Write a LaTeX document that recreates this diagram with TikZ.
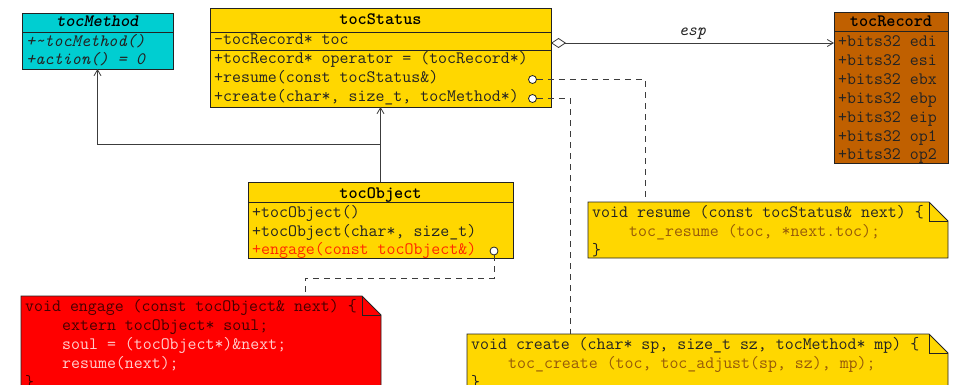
\documentclass[tikz,border=0pt]{standalone}
\usepackage{fontspec}
\usetikzlibrary{arrows.meta}
\definecolor{goldc}{RGB}{255,215,0}
\definecolor{cyanc}{RGB}{0,206,209}
\definecolor{brownc}{RGB}{192,96,0}
\definecolor{redc}{RGB}{255,0,0}
\definecolor{darkc}{RGB}{35,35,35}
\definecolor{linec}{RGB}{60,60,60}
\definecolor{bodyc}{RGB}{150,90,10}
\definecolor{pinkc}{RGB}{255,205,205}
\definecolor{maroonc}{RGB}{70,0,0}
\definecolor{engc}{RGB}{255,40,0}
\newcommand\mf{\ttfamily\fontsize{17.4}{20}\selectfont}
\newcommand\notefold[2]{%
  \filldraw[boxline, fill=#2] (#1.south west) -- (#1.north west) -- ([xshift=-19pt]#1.north east) -- ([yshift=-19pt]#1.north east) -- (#1.south east) -- cycle;
  \draw[boxline] ([xshift=-19pt]#1.north east) -- ([xshift=-19pt,yshift=-19pt]#1.north east) -- ([yshift=-19pt]#1.north east);}
\begin{document}
\begin{tikzpicture}[x=1pt,y=-1pt,
  boxline/.style={draw=darkc, line width=0.8pt},
  box/.style={boxline, rectangle, inner sep=0pt, outer sep=0pt},
  notearea/.style={rectangle, inner sep=0pt, outer sep=0pt},
  txt/.style={anchor=base west, inner sep=0pt, text=darkc, font=\mf},
  ttl/.style={anchor=base, inner sep=0pt, text=black, font=\mf\bfseries},
  port/.style={circle, draw=darkc, line width=0.8pt, fill=white, minimum size=8pt, inner sep=0pt},
  conn/.style={draw=linec, line width=0.8pt},
  dashline/.style={conn, dash pattern=on 6pt off 5pt},
  tip/.style={-{Straight Barb[length=6pt,width=7pt]}}]
\useasboundingbox (0,0) rectangle (955,385);

% ---- class boxes
\node[box, fill=cyanc, minimum width=151pt, minimum height=56pt] (tm) at (97.5,41) {};
\draw[boxline] ([yshift=-19pt]tm.north west) -- ([yshift=-19pt]tm.north east);
\node[ttl, font=\mf\bfseries\itshape] (tmT) at (97.5,27) {tocMethod};
\node[txt, font=\mf\itshape] (tm1) at (26,47) {+\textasciitilde tocMethod()};
\node[txt, font=\mf\itshape] (tm2) at (26,65) {+action() = 0};

\node[box, fill=goldc, minimum width=341pt, minimum height=99pt] (st) at (380.5,57.5) {};
\draw[boxline] ([yshift=-24pt]st.north west) -- ([yshift=-24pt]st.north east);
\draw[boxline] ([yshift=-42pt]st.north west) -- ([yshift=-42pt]st.north east);
\node[ttl] (stT) at (380.5,25) {tocStatus};
\node[txt] (st0) at (214,45) {-tocRecord* toc};
\node[txt] (st1) at (214,64) {+tocRecord* operator = (tocRecord*)};
\node[txt] (st2) at (214,83) {+resume(const tocStatus\&)};
\node[txt] (st3) at (214,102) {+create(char*, size\_t, tocMethod*)};

\node[box, fill=brownc, minimum width=114pt, minimum height=151pt] (rec) at (891,87.5) {};
\draw[boxline] ([yshift=-19pt]rec.north west) -- ([yshift=-19pt]rec.north east);
\node[ttl] (recT) at (891,27) {tocRecord};
\node[txt] (r1) at (838,47) {+bits32 edi};
\node[txt] (r2) at (838,65.8) {+bits32 esi};
\node[txt] (r3) at (838,84.6) {+bits32 ebx};
\node[txt] (r4) at (838,103.4) {+bits32 ebp};
\node[txt] (r5) at (838,122.2) {+bits32 eip};
\node[txt] (r6) at (838,141) {+bits32 op1};
\node[txt] (r7) at (838,159.8) {+bits32 op2};

\node[box, fill=goldc, minimum width=265pt, minimum height=76pt] (ob) at (380.5,220) {};
\draw[boxline] ([yshift=-20pt]ob.north west) -- ([yshift=-20pt]ob.north east);
\node[ttl] (obT) at (380.5,198) {tocObject};
\node[txt] (ob1) at (252,217) {+tocObject()};
\node[txt] (ob2) at (252,236) {+tocObject(char*, size\_t)};
\node[txt, text=engc] (ob3) at (252,254.5) {+engage(const tocObject\&)};

% ---- notes
\node[notearea, minimum width=360pt, minimum height=56pt] (rn) at (768,230) {};
\notefold{rn}{goldc}
\node[txt] (rn1) at (592,217) {void resume (const tocStatus\& next) \{};
\node[txt, text=bodyc] (rn2) at (629,236) {toc\_resume (toc, *next.toc);};
\node[txt] (rn3) at (592,255) {\}};

\node[notearea, minimum width=360pt, minimum height=110pt] (en) at (201,351) {};
\notefold{en}{redc}
\node[txt, text=maroonc] (en1) at (25,311) {void engage (const tocObject\& next) \{};
\node[txt, text=maroonc] (en2) at (62,330) {extern tocObject* soul;};
\node[txt, text=pinkc] (en3) at (62,349) {soul = (tocObject*)\&next;};
\node[txt, text=pinkc] (en4) at (62,368) {resume(next);};
\node[txt, text=maroonc] (en5) at (25,387) {\}};

\node[notearea, minimum width=481pt, minimum height=72pt] (cn) at (707.5,370) {};
\notefold{cn}{goldc}
\node[txt] (cn1) at (471,349) {void create (char* sp, size\_t sz, tocMethod* mp) \{};
\node[txt, text=bodyc] (cn2) at (508,368) {toc\_create (toc, toc\_adjust(sp, sz), mp);};
\node[txt] (cn3) at (471,387) {\}};

% ---- ports
\node[port] (pres) at (532.5,79.5) {};
\node[port] (pcre) at (532.5,98.5) {};
\node[port] (peng) at (494,251) {};

% ---- connectors
\coordinate (aggS) at (551,43);
\draw[conn, {Diamond[open,length=15pt,width=10pt]}-{Straight Barb[length=6pt,width=7pt]}] (aggS) -- (aggS -| rec.west)
  node[midway, above=3pt, inner sep=0pt, text=darkc, font=\mf\itshape] (espL) {esp};

\draw[conn, tip] (ob.north) -- (st.south);
\coordinate (jn) at (380.5,144);
\draw[conn, tip] (jn) -- (tm.south |- jn) -- (tm.south);

\coordinate (rk) at (645,79.5);
\draw[dashline] (pres.east) -- (rk) -- (rk |- rn.north);
\coordinate (ck) at (570,98.5);
\draw[dashline] (pcre.east) -- (ck) -- (ck |- cn.north);
\coordinate (ek1) at (494,278);
\coordinate (ek2) at (305,278);
\draw[dashline] (peng.south) -- (ek1) -- (ek2) -- (ek2 |- en.north);
\end{tikzpicture}
\end{document}
